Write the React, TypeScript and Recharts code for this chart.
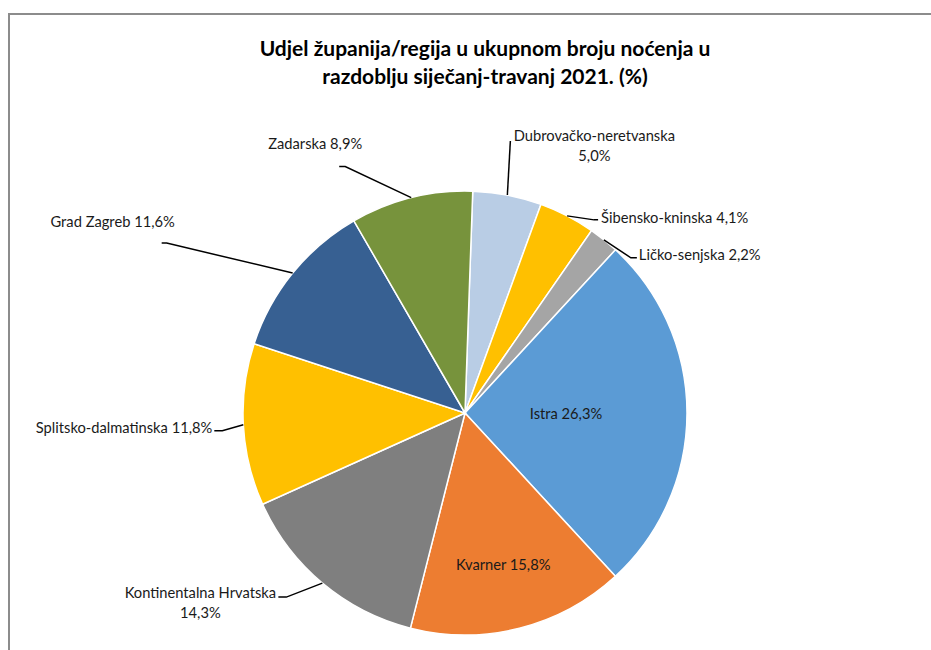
import React from 'react';
import { PieChart, Pie, Cell } from 'recharts';

// Udio u noćenjima, redom u smjeru kazaljke od vrha
const regions = [
  'Dubrovačko-neretvanska',
  'Šibensko-kninska',
  'Ličko-senjska',
  'Istra',
  'Kvarner',
  'Kontinentalna Hrvatska',
  'Splitsko-dalmatinska',
  'Grad Zagreb',
  'Zadarska',
];
const shares = [5.0, 4.1, 2.2, 26.3, 15.8, 14.3, 11.8, 11.6, 8.9];
const colors = [
  '#B9CDE5',
  '#FFC000',
  '#A5A5A5',
  '#5B9BD5',
  '#ED7D31',
  '#7F7F7F',
  '#FFC000',
  '#376092',
  '#77933C',
];

const titleLines = [
  'Udjel županija/regija u ukupnom broju noćenja u',
  'razdoblju siječanj-travanj 2021. (%)',
];

const data = regions.map((name, i) => ({ name, value: shares[i] }));

const FONT = 'Lato, "Open Sans", sans-serif';
const RAD = Math.PI / 180;

type LabelLayout = {
  inside?: number; // radijus za oznake unutar kriške
  elbow?: [number, number]; // pomak lomne točke od ruba
  tail?: number; // kratki vodoravni dio linije
  text?: [number, number]; // pozicija teksta od lomne točke
  anchor?: 'start' | 'middle' | 'end';
  split?: boolean; // postotak u drugom redu
};

const layout: Record<string, LabelLayout> = {
  'Dubrovačko-neretvanska': { elbow: [3, -54], tail: 0, text: [84, -6], anchor: 'middle', split: true },
  'Šibensko-kninska': { elbow: [27, 4], tail: 4, text: [7, -3], anchor: 'start' },
  'Ličko-senjska': { elbow: [27, 18], tail: 6, text: [8, -4], anchor: 'start' },
  Istra: { inside: 101 },
  Kvarner: { inside: 156 },
  'Kontinentalna Hrvatska': { elbow: [-36, 14], tail: -8, text: [-86, -5], anchor: 'middle', split: true },
  'Splitsko-dalmatinska': { elbow: [-21, 6], tail: -8, text: [-10, -4], anchor: 'end' },
  'Grad Zagreb': { elbow: [-126, -30], tail: -5, text: [-54, -22], anchor: 'middle' },
  Zadarska: { elbow: [-66, -31], tail: -6, text: [-30, -24], anchor: 'middle' },
};

const fmt = (v: number) => v.toFixed(1).replace('.', ',') + '%';

const renderLabel = (props: any) => {
  const { cx, cy, midAngle, outerRadius, name, value } = props;
  const cfg = layout[name] || {};
  const cos = Math.cos(-midAngle * RAD);
  const sin = Math.sin(-midAngle * RAD);
  const textStyle = { fontFamily: FONT, fontSize: 14.7, fill: '#1a1a1a' };

  if (cfg.inside) {
    const x = cx + cfg.inside * cos;
    const y = cy + cfg.inside * sin;
    return (
      <text x={x} y={y} textAnchor="middle" dominantBaseline="central" style={textStyle}>
        {`${name} ${fmt(value)}`}
      </text>
    );
  }

  const ex = cx + outerRadius * cos;
  const ey = cy + outerRadius * sin;
  const [ox, oy] = cfg.elbow || [0, 0];
  const bx = ex + ox;
  const by = ey + oy;
  const tx = bx + (cfg.tail || 0);
  const [lx, ly] = cfg.text || [0, 0];

  return (
    <g>
      <polyline
        points={`${ex},${ey} ${bx},${by} ${tx},${by}`}
        fill="none"
        stroke="#000"
        strokeWidth={1.5}
      />
      {cfg.split ? (
        <text x={bx + lx} y={by + ly} textAnchor={cfg.anchor} dominantBaseline="central" style={textStyle}>
          <tspan x={bx + lx}>{name}</tspan>
          <tspan x={bx + lx} dy={20}>
            {fmt(value)}
          </tspan>
        </text>
      ) : (
        <text x={bx + lx} y={by + ly} textAnchor={cfg.anchor} dominantBaseline="central" style={textStyle}>
          {`${name} ${fmt(value)}`}
        </text>
      )}
    </g>
  );
};

export default function App() {
  const titleStyle = { fontFamily: FONT, fontSize: 21, fontWeight: 700, fill: '#000' };
  return (
    <div
      style={{
        position: 'relative',
        width: 931,
        height: 650,
        background: '#fff',
        overflow: 'hidden',
      }}
    >
      <style>{'body{margin:0}'}</style>
      <div
        style={{
          position: 'absolute',
          left: 8,
          top: 13,
          width: 1000,
          height: 700,
          borderTop: '2px solid #8c8c8c',
          borderLeft: '2px solid #8c8c8c',
        }}
      />
      <PieChart
        width={931}
        height={650}
        margin={{ top: 0, right: 0, bottom: 0, left: 0 }}
        style={{ position: 'absolute', left: 0, top: 0 }}
      >
        <text x={485} y={47} textAnchor="middle" dominantBaseline="central" style={titleStyle}>
          {titleLines[0]}
        </text>
        <text x={485} y={75} textAnchor="middle" dominantBaseline="central" style={titleStyle}>
          {titleLines[1]}
        </text>
        <Pie
          data={data}
          dataKey="value"
          nameKey="name"
          cx={465}
          cy={413}
          outerRadius={222}
          startAngle={88}
          endAngle={-272}
          stroke="#fff"
          strokeWidth={1.5}
          label={renderLabel}
          labelLine={false}
          isAnimationActive={false}
        >
          {data.map((d, i) => (
            <Cell key={d.name} fill={colors[i]} />
          ))}
        </Pie>
      </PieChart>
    </div>
  );
}
